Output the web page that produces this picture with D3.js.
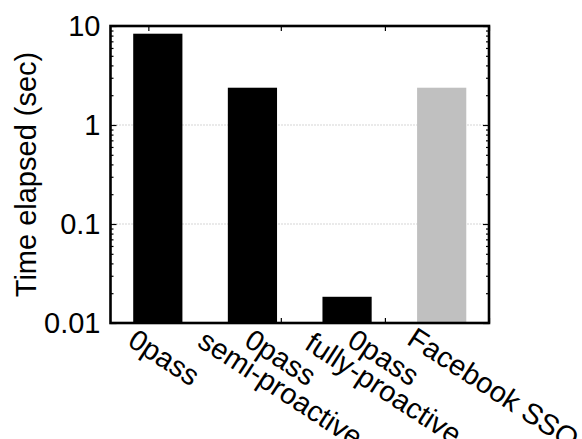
<!DOCTYPE html>
<html>
<head>
<meta charset="utf-8">
<script src="https://cdn.jsdelivr.net/npm/d3@7"></script>
<style>
  body { margin: 0; background: #fff; }
  text { font-family: "Liberation Sans", Arial, Helvetica, sans-serif; fill: #000; }
</style>
</head>
<body>
<div id="chart"></div>
<script>
// Data
const categories = [["0pass"], ["0pass", "semi-proactive"], ["0pass", "fully-proactive"], ["", "Facebook SSO"]];
const times = [8.36, 2.38, 0.0184, 2.38];
const barColors = ["#000000", "#000000", "#000000", "#c0c0c0"];
const yTicks = [0.01, 0.1, 1, 10];
const yTickLabels = ["0.01", "0.1", "1", "10"];
const xTickPos = [-0.1, 1.3, 2.4, 3.5];
const xLabelPos = [0.07, 1.3, 2.39, 3.55];

// Dimensions
const W = 582, H = 439;
const margin = { top: 26, right: 93, bottom: 116, left: 110.5 };
const width = W - margin.left - margin.right;
const height = H - margin.top - margin.bottom;

const svg = d3.select("#chart")
    .append("svg")
    .attr("width", W)
    .attr("height", H);

const g = svg.append("g")
    .attr("transform", "translate(" + margin.left + "," + margin.top + ")");

// Scales
const x = d3.scaleLinear()
    .domain([-0.5, 3.5])
    .range([0, width]);

const y = d3.scaleLog()
    .domain([0.01, 10])
    .range([height, 0]);

// Grid lines (dotted) at inner decades
g.append("g")
    .selectAll("line")
    .data(yTicks.filter(d => d > 0.01 && d < 10))
    .enter().append("line")
    .attr("x1", 0)
    .attr("x2", width)
    .attr("y1", d => y(d))
    .attr("y2", d => y(d))
    .attr("stroke", "#aaaaaa")
    .attr("stroke-width", 1)
    .attr("stroke-dasharray", "1,2");

// Bars
const barW = x(0.52) - x(0);
g.selectAll(".bar")
    .data(times)
    .enter().append("rect")
    .attr("class", "bar")
    .attr("x", (d, i) => x(i) - barW / 2)
    .attr("y", d => y(d))
    .attr("width", barW)
    .attr("height", d => height - y(d))
    .attr("fill", (d, i) => barColors[i]);

// Y ticks (major + minor), left and right, pointing inward
const minor = [];
yTicks.slice(0, -1).forEach(t => {
    for (let k = 2; k <= 9; k++) minor.push(t * k);
});

const yAxisL = d3.axisLeft(y).tickValues(yTicks).tickSizeInner(-6).tickSizeOuter(0).tickFormat("");
const yAxisR = d3.axisRight(y).tickValues(yTicks).tickSizeInner(-6).tickSizeOuter(0).tickFormat("");
const yMinL = d3.axisLeft(y).tickValues(minor).tickSizeInner(-3).tickSizeOuter(0).tickFormat("");
const yMinR = d3.axisRight(y).tickValues(minor).tickSizeInner(-3).tickSizeOuter(0).tickFormat("");

[yAxisL, yMinL].forEach(a => g.append("g").call(a).call(s => s.select(".domain").remove()));
[yAxisR, yMinR].forEach(a => g.append("g").attr("transform", "translate(" + width + ",0)")
    .call(a).call(s => s.select(".domain").remove()));

// X ticks top and bottom
g.append("g")
    .attr("transform", "translate(0," + height + ")")
    .call(d3.axisBottom(x).tickValues(xTickPos).tickSizeInner(-5).tickSizeOuter(0).tickFormat(""))
    .call(s => s.select(".domain").remove());
g.append("g")
    .call(d3.axisTop(x).tickValues(xTickPos).tickSizeInner(-5).tickSizeOuter(0).tickFormat(""))
    .call(s => s.select(".domain").remove());

g.selectAll(".tick line").attr("stroke", "#000").attr("stroke-width", 1.2);

// Y tick labels
g.append("g")
    .selectAll("text")
    .data(yTicks)
    .enter().append("text")
    .attr("x", -10)
    .attr("y", d => y(d))
    .attr("dy", "0.36em")
    .attr("text-anchor", "end")
    .style("font-size", "29px")
    .text((d, i) => yTickLabels[i]);

// X tick labels: each line rotated and centered, lines stacked vertically
categories.forEach((lines, i) => {
    lines.forEach((line, j) => {
        if (!line) return;
        g.append("text")
            .attr("transform", "translate(" + x(xLabelPos[i]) + "," + (height + 34 + j * 31) + ") rotate(33)")
            .attr("text-anchor", "middle")
            .attr("dy", "0.36em")
            .style("font-size", "29px")
            .text(line);
    });
});

// Frame
g.append("rect")
    .attr("x", 0)
    .attr("y", 0)
    .attr("width", width)
    .attr("height", height)
    .attr("fill", "none")
    .attr("stroke", "#000")
    .attr("stroke-width", 2.6);

// Y axis title
svg.append("text")
    .attr("transform", "translate(36," + (margin.top + height / 2) + ") rotate(-90)")
    .attr("text-anchor", "middle")
    .style("font-size", "29px")
    .text("Time elapsed (sec)");
</script>
</body>
</html>
